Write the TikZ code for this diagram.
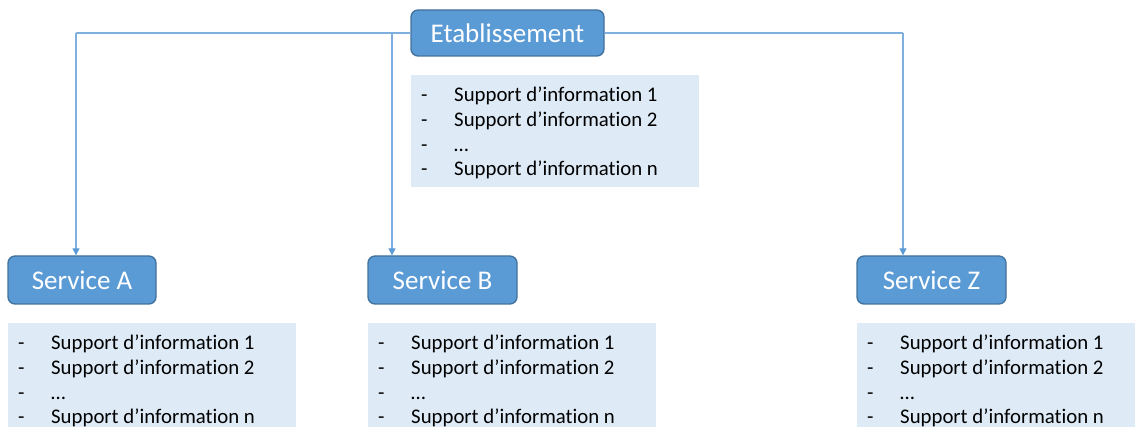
\documentclass[tikz,border=0pt]{standalone}
\usepackage{fontspec}
\setmainfont{Carlito}[Ligatures={NoCommon}]
\usetikzlibrary{arrows.meta}
\definecolor{boxfill}{HTML}{5B9BD5}
\definecolor{boxdraw}{HTML}{41719C}
\definecolor{listfill}{HTML}{DEEBF7}
\definecolor{conncol}{HTML}{7FAFDF}
\tikzset{
  title/.style={rectangle, rounded corners=7pt, fill=boxfill, draw=boxdraw, line width=1.3pt,
    text=white, inner sep=0pt, font=\fontsize{27}{30}\selectfont, minimum height=48pt, text depth=0pt, text height=19pt},
  listbox/.style={rectangle, fill=listfill, draw=none, inner sep=0pt},
  listtext/.style={anchor=base west, inner sep=0pt, text=black, font=\fontsize{20.8}{24}\selectfont},
  conn/.style={draw=conncol, line width=1.1pt, -{Triangle[length=7pt,width=7pt,color=boxfill]}},
  connplain/.style={draw=conncol, line width=1.1pt}
}
\newcommand{\suplist}[5]{%
  \node[listbox, minimum width=#4, minimum height=#5, anchor=north west] (#1) at (#2,#3) {};
  \foreach \i/\t in {1/Support d’information 1,2/Support d’information 2,3/…,4/Support d’information n}{
    \node[listtext] (#1d\i) at (#2+10, #3+2.4+24.6*\i) {-};
    \node[listtext] (#1t\i) at (#2+43, #3+2.4+24.6*\i) {\t};
  }}
\begin{document}
\begin{tikzpicture}[x=1pt,y=-1pt]
\useasboundingbox (0,0) rectangle (1135,427);
\clip (0,0) rectangle (1135,427);
% title boxes
\node[title, minimum width=193pt, minimum height=46pt] (etab) at (507.5,33) {Etablissement};
\node[title, minimum width=148pt] (sA) at (82,280) {Service A};
\node[title, minimum width=149pt] (sB) at (442.5,280) {Service B};
\node[title, minimum width=149pt] (sZ) at (931.5,280) {Service Z};
% lists
\suplist{lE}{411}{75}{288}{112}
\suplist{lA}{8}{323}{288}{200}
\suplist{lB}{368}{323}{288}{200}
\suplist{lZ}{857}{323}{290}{200}
% connectors
\coordinate (jA) at (76,33);
\coordinate (jB) at (392,33);
\coordinate (jZ) at (903,33);
\draw[connplain] (etab.west) -- (jA);
\draw[conn] (jA) -- (jA |- sA.north);
\draw[conn] (jB) -- (jB |- sB.north);
\draw[connplain] (etab.east) -- (jZ);
\draw[conn] (jZ) -- (jZ |- sZ.north);
\end{tikzpicture}
\end{document}
